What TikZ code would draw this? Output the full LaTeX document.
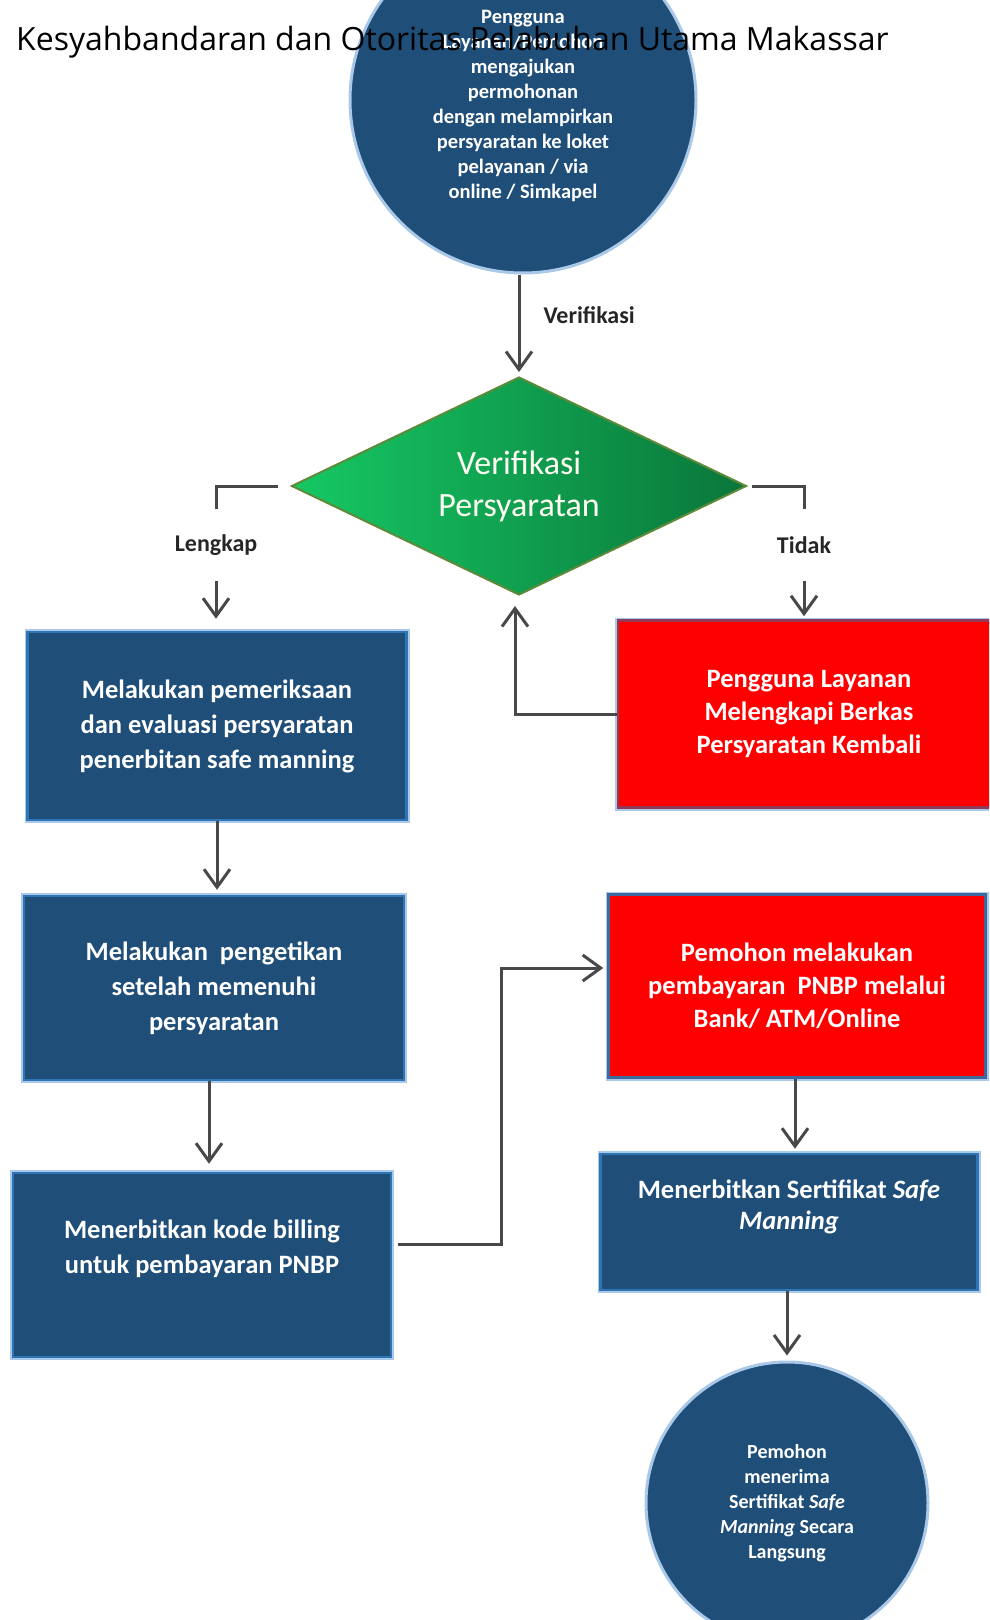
\documentclass[tikz,border=0pt]{standalone}
\usepackage{fontspec}
\setmainfont{Carlito}
\newfontfamily\titlefont{Open Sans}
\definecolor{boxBlue}{RGB}{31,78,121}
\definecolor{boxEdge}{RGB}{46,117,182}
\definecolor{boxHalo}{RGB}{170,200,232}
\definecolor{alertRed}{RGB}{255,0,0}
\definecolor{redEdge}{RGB}{145,58,90}
\definecolor{payEdge}{RGB}{62,104,160}
\definecolor{diaLeft}{RGB}{22,200,100}
\definecolor{diaMid}{RGB}{18,178,88}
\definecolor{diaRight}{RGB}{10,118,58}
\definecolor{diaEdge}{RGB}{94,138,58}
\definecolor{lineGray}{RGB}{72,72,72}
\usetikzlibrary{arrows.meta,positioning,shapes.geometric}

\begin{document}
\begin{tikzpicture}[x=1pt, y=-1pt,
    flowline/.style={draw=lineGray, line width=3},
    flowarrow/.style={flowline, -{Straight Barb[length=18, width=26]}},
    blockbox/.style={rectangle, draw=boxEdge, line width=2.5, fill=boxBlue, text=white, align=center,
        preaction={draw=boxHalo, line width=6}, font=\fontsize{26.5}{35}\selectfont\bfseries},
    alertbox/.style={blockbox, fill=alertRed, draw=redEdge, font=\fontsize{26.5}{33}\selectfont\bfseries},
    endpoint/.style={circle, draw=boxHalo, line width=3, fill=boxBlue, text=white, align=center, inner sep=0},
    branchlabel/.style={inner sep=0, text=black!85, font=\fontsize{24}{28}\selectfont\bfseries}]
    \useasboundingbox (0,0) rectangle (989,1620);
    \clip (0,0) rectangle (989,1620);

    % start and decision
    \node[endpoint, minimum size=346, text height=200, font=\fontsize{20.5}{25}\selectfont\bfseries] (apply) at (523,100) {Pengguna\\Layanan/Pemohon\\mengajukan\\permohonan\\dengan melampirkan\\persyaratan ke loket\\pelayanan / via\\online / Simkapel};

    \node[diamond, shape aspect=2.09, draw=diaEdge, line width=2, left color=diaLeft, middle color=diaMid, right color=diaRight, minimum width=455, minimum height=218, inner sep=0, align=center, text=white!95!yellow, font=\fontsize{34}{42}\selectfont] (verify) at (519,486) {Verifikasi\\Persyaratan};

    \node[branchlabel, minimum height=72] (lengkap) at (216,545) {Lengkap};
    \node[branchlabel, minimum height=72] (tidak) at (804,545) {Tidak};

    % process boxes
    \node[blockbox, minimum width=379, minimum height=188] (check) at (217,726) {Melakukan pemeriksaan\\dan evaluasi persyaratan\\penerbitan safe manning};
    \node[alertbox, minimum width=382, minimum height=187] (redo) at (809,714) {Pengguna Layanan\\Melengkapi Berkas\\Persyaratan Kembali};
    \node[blockbox, minimum width=380, minimum height=184] (typing) at (214,988) {Melakukan\ \ pengetikan\\setelah memenuhi\\persyaratan};
    \node[blockbox, minimum width=378, minimum height=184, text depth=36] (billing) at (202,1265) {Menerbitkan kode billing\\untuk pembayaran PNBP};
    \node[alertbox, draw=payEdge, minimum width=377, minimum height=183] (pay) at (797,986) {Pemohon melakukan\\pembayaran\ \ PNBP melalui\\Bank/ ATM/Online};
    \node[blockbox, minimum width=377, minimum height=136, text depth=34, font=\fontsize{26.5}{31}\selectfont\bfseries] (issue) at (789,1222) {Menerbitkan Sertifikat \textit{Safe}\\\textit{Manning}};

    \node[endpoint, minimum size=282, font=\fontsize{20}{25}\selectfont\bfseries] (receive) at (787,1503) {Pemohon\\menerima\\Sertifikat \textit{Safe}\\\textit{Manning} Secara\\Langsung};

    % connectors
    \draw[flowarrow, shorten >=4] (apply.south -| verify.north) -- (verify.north)
        node[branchlabel, pos=0.4, right=23] (verifylabel) {Verifikasi};
    \draw[flowline, shorten <=13] (verify.west) -| (lengkap.north);
    \draw[flowarrow, shorten >=12] (lengkap.south) -- (lengkap.south |- check.north);
    \draw[flowline, shorten <=4] (verify.east) -| (tidak.north);
    \draw[flowarrow, shorten >=3] (tidak.south) -- (tidak.south |- redo.north);
    \draw[flowarrow, shorten >=10] (redo.west) -| ([xshift=-4]verify.south);
    \draw[flowarrow, shorten >=5] (check.south) -- (check.south |- typing.north);
    \draw[flowarrow, shorten >=8] ([xshift=-5]typing.south) -- ([xshift=-5]typing.south |- billing.north);
    \draw[flowarrow, shorten <=6, shorten >=4] ([yshift=21]billing.east) -| ([xshift=-106,yshift=18]pay.west) -- ([yshift=18]pay.west);
    \draw[flowarrow, shorten >=4] ([xshift=-2]pay.south) -- ([xshift=-2]pay.south |- issue.north);
    \draw[flowarrow, shorten >=5] ([xshift=-2]issue.south) -- ([xshift=-2]issue.south |- receive.north);

    \node[anchor=base west, inner sep=0, font=\titlefont\fontsize{32}{38}\selectfont] (title) at (16,50) {Kesyahbandaran dan Otoritas Pelabuhan Utama Makassar};
\end{tikzpicture}
\end{document}
